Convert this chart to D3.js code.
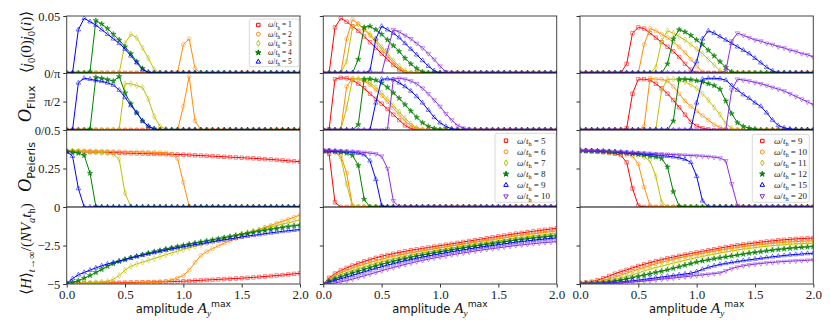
<!DOCTYPE html>
<html><head><meta charset="utf-8">
<script src="https://cdn.jsdelivr.net/npm/d3@7"></script>
<style>body{margin:0;background:#fff}</style>
</head><body><svg id="c" width="830" height="323"></svg>
<script>
// ---------------- data ----------------
const amp = [0,0.05,0.1,0.15,0.2,0.25,0.3,0.35,0.4,0.45,0.5,0.55,0.6,0.65,0.7,0.75,0.8,0.85,0.9,0.95,1,1.05,1.1,1.15,1.2,1.25,1.3,1.35,1.4,1.45,1.5,1.55,1.6,1.65,1.7,1.75,1.8,1.85,1.9,1.95,2];
const omegaLeft = [1,2,3,4,5];
const omegaMid = [5,6,7,8,9,10];
const omegaRight = [9,10,11,12,15,20];
const xTicks = [0,0.5,1,1.5,2];
const xTickLabels = ["0.0","0.5","1.0","1.5","2.0"];
const yTickValues = [[0,0.05],[0,Math.PI/2],[0,0.25],[-5,-2.5]];
const yTickLabels = [["0/π","0.05"],["0/0.5","π/2"],["0","0.25"],["−5","−2.5"]];

const jLeft = [
[0,0,0,0,0,0,0,0,0,0, 0,0,0,0,0,0,0,0,0,0, 0,0,0,0,0,0,0,0,0,0, 0,0,0,0,0,0,0,0,0,0, 0],
[0,0,0,0,0,0,0,0,0,0, 0,0,0,0,0,0,0,0,0,0, 0.025,0.03,0.004,0,0,0,0,0,0,0, 0,0,0,0,0,0,0,0,0,0, 0],
[0,0,0,0,0,0,0,0,0,0, 0.026,0.034,0.031,0.022,0.013,0.003,0,0,0,0, 0,0,0,0,0,0,0,0,0,0, 0,0,0,0,0,0,0,0,0,0, 0],
[0,0,0,0,0.001,0.046,0.043,0.039,0.034,0.029, 0.023,0.017,0.01,0.004,0.0005,0,0,0,0,0, 0,0,0,0,0,0,0,0,0,0, 0,0,0,0,0,0,0,0,0,0, 0],
[0,0,0.038,0.048,0.045,0.042,0.038,0.034,0.03,0.026, 0.021,0.015,0.009,0.003,0.0005,0,0,0,0,0, 0,0,0,0,0,0,0,0,0,0, 0,0,0,0,0,0,0,0,0,0, 0]
];
const fluxLeft = [
[0,0,0,0,0,0,0,0,0,0, 0,0,0,0,0,0,0,0,0,0, 0,0,0,0,0,0,0,0,0,0, 0,0,0,0,0,0,0,0,0,0, 0],
[0,0,0,0,0,0,0,0,0,0, 0,0,0,0,0,0,0,0,0,0, 1.3,2.95,0.5,0.02,0,0,0,0,0,0, 0,0,0,0,0,0,0,0,0,0, 0],
[0,0,0,0,0,0,0,0,0,0.05, 2.55,2.55,2.45,2.35,1.7,0.75,0.2,0.05,0,0, 0,0,0,0,0,0,0,0,0,0, 0,0,0,0,0,0,0,0,0,0, 0],
[0,0,0,0,0.05,2.9,2.85,2.78,2.7,2.95, 2.05,1.45,0.95,0.5,0.2,0.06,0,0,0,0, 0,0,0,0,0,0,0,0,0,0, 0,0,0,0,0,0,0,0,0,0, 0],
[0,0,2.6,2.85,2.8,2.73,2.68,2.6,2.48,2.2, 1.8,1.35,0.95,0.5,0.2,0.06,0,0,0,0, 0,0,0,0,0,0,0,0,0,0, 0,0,0,0,0,0,0,0,0,0, 0]
];
const peierlsLeft = [
[0.36,0.36,0.36,0.358,0.357,0.356,0.355,0.354,0.353,0.352, 0.35,0.349,0.348,0.347,0.346,0.345,0.344,0.343,0.342,0.341, 0.34,0.338,0.336,0.334,0.332,0.33,0.328,0.326,0.324,0.322, 0.32,0.318,0.316,0.314,0.311,0.309,0.306,0.303,0.3,0.297, 0.294],
[0.365,0.365,0.364,0.364,0.363,0.363,0.362,0.362,0.361,0.36, 0.359,0.358,0.358,0.357,0.356,0.355,0.354,0.352,0.345,0.315, 0.16,0.005,0,0,0,0,0,0,0,0, 0,0,0,0,0,0,0,0,0,0, 0],
[0.365,0.364,0.362,0.36,0.358,0.356,0.354,0.35,0.342,0.31, 0.09,0.002,0,0,0,0,0,0,0,0, 0,0,0,0,0,0,0,0,0,0, 0,0,0,0,0,0,0,0,0,0, 0],
[0.36,0.356,0.35,0.335,0.22,0.002,0,0,0,0, 0,0,0,0,0,0,0,0,0,0, 0,0,0,0,0,0,0,0,0,0, 0,0,0,0,0,0,0,0,0,0, 0],
[0.36,0.33,0.12,0,0,0,0,0,0,0, 0,0,0,0,0,0,0,0,0,0, 0,0,0,0,0,0,0,0,0,0, 0,0,0,0,0,0,0,0,0,0, 0]
];
const energyLeft = [
[-4.95,-4.95,-4.95,-4.95,-4.94,-4.94,-4.93,-4.93,-4.92,-4.92, -4.91,-4.9,-4.9,-4.89,-4.88,-4.87,-4.86,-4.85,-4.84,-4.83, -4.82,-4.8,-4.78,-4.76,-4.74,-4.72,-4.7,-4.68,-4.66,-4.64, -4.62,-4.6,-4.57,-4.54,-4.51,-4.48,-4.45,-4.42,-4.38,-4.34, -4.3],
[-4.95,-4.95,-4.95,-4.95,-4.95,-4.95,-4.95,-4.95,-4.95,-4.95, -4.95,-4.94,-4.93,-4.92,-4.91,-4.9,-4.88,-4.83,-4.75,-4.6, -4.45,-4.1,-3.6,-3.15,-2.9,-2.7,-2.52,-2.35,-2.2,-2.05, -1.9,-1.75,-1.6,-1.47,-1.32,-1.2,-1.05,-0.93,-0.8,-0.66, -0.52],
[-4.98,-4.97,-4.96,-4.94,-4.92,-4.9,-4.87,-4.82,-4.7,-4.45, -4.1,-3.85,-3.7,-3.58,-3.46,-3.35,-3.22,-3.1,-2.98,-2.87, -2.76,-2.65,-2.55,-2.45,-2.36,-2.25,-2.15,-2.05,-1.95,-1.85, -1.75,-1.65,-1.56,-1.47,-1.38,-1.29,-1.2,-1.11,-1.02,-0.93, -0.84],
[-4.97,-4.9,-4.78,-4.62,-4.45,-4.25,-4.05,-3.85,-3.68,-3.54, -3.42,-3.3,-3.2,-3.1,-3.0,-2.9,-2.82,-2.73,-2.65,-2.57, -2.49,-2.41,-2.34,-2.27,-2.2,-2.13,-2.06,-1.99,-1.92,-1.85, -1.78,-1.71,-1.64,-1.58,-1.51,-1.45,-1.39,-1.33,-1.27,-1.22, -1.17],
[-4.97,-4.65,-4.4,-4.25,-4.1,-3.95,-3.82,-3.7,-3.6,-3.5, -3.4,-3.3,-3.21,-3.12,-3.04,-2.96,-2.88,-2.8,-2.72,-2.65, -2.58,-2.51,-2.44,-2.38,-2.31,-2.25,-2.19,-2.13,-2.07,-2.01, -1.95,-1.89,-1.84,-1.79,-1.73,-1.68,-1.63,-1.58,-1.54,-1.5, -1.46]
];

const jMid = [
[0,0,0.04,0.048,0.045,0.041,0.037,0.032,0.027,0.022, 0.017,0.012,0.007,0.003,0.0005,0,0,0,0,0, 0,0,0,0,0,0,0,0,0,0, 0,0,0,0,0,0,0,0,0,0, 0],
[0,0,0,0,0.03,0.047,0.043,0.038,0.033,0.027, 0.021,0.015,0.009,0.004,0.001,0,0,0,0,0, 0,0,0,0,0,0,0,0,0,0, 0,0,0,0,0,0,0,0,0,0, 0],
[0,0,0,0,0.01,0.04,0.043,0.039,0.034,0.029, 0.023,0.017,0.011,0.006,0.002,0,0,0,0,0, 0,0,0,0,0,0,0,0,0,0, 0,0,0,0,0,0,0,0,0,0, 0],
[0,0,0,0,0,0,0.012,0.04,0.041,0.038, 0.034,0.029,0.024,0.019,0.013,0.008,0.004,0.001,0,0, 0,0,0,0,0,0,0,0,0,0, 0,0,0,0,0,0,0,0,0,0, 0],
[0,0,0,0,0,0,0,0,0.002,0.03, 0.041,0.038,0.035,0.031,0.026,0.021,0.016,0.011,0.006,0.002, 0,0,0,0,0,0,0,0,0,0, 0,0,0,0,0,0,0,0,0,0, 0],
[0,0,0,0,0,0,0,0,0,0, 0,0.02,0.038,0.036,0.033,0.03,0.026,0.022,0.017,0.012, 0.006,0.001,0,0,0,0,0,0,0,0, 0,0,0,0,0,0,0,0,0,0, 0]
];
const fluxMid = [
[0,0.05,2.8,2.88,2.85,2.75,2.55,2.3,2.0,1.72, 1.45,1.15,0.85,0.55,0.25,0.08,0.02,0,0,0, 0,0,0,0,0,0,0,0,0,0, 0,0,0,0,0,0,0,0,0,0, 0],
[0,0,0,0.02,2.4,2.85,2.8,2.7,2.5,2.2, 1.9,1.55,1.2,0.85,0.5,0.25,0.08,0,0,0, 0,0,0,0,0,0,0,0,0,0, 0,0,0,0,0,0,0,0,0,0, 0],
[0,0,0,0.02,1.2,2.8,2.83,2.78,2.6,2.35, 2.05,1.7,1.35,1.0,0.65,0.35,0.12,0.03,0,0, 0,0,0,0,0,0,0,0,0,0, 0,0,0,0,0,0,0,0,0,0, 0],
[0,0,0,0,0,0,0.3,2.8,2.82,2.75, 2.6,2.35,2.05,1.75,1.4,1.05,0.7,0.4,0.2,0.08, 0.02,0,0,0,0,0,0,0,0,0, 0,0,0,0,0,0,0,0,0,0, 0],
[0,0,0,0,0,0,0,0,0,1.5, 2.8,2.82,2.78,2.6,2.4,2.15,1.85,1.5,1.1,0.7, 0.4,0.2,0.07,0.02,0,0,0,0,0,0, 0,0,0,0,0,0,0,0,0,0, 0],
[0,0,0,0,0,0,0,0,0,0, 0,0.05,2.8,2.85,2.8,2.7,2.55,2.3,2.0,1.65, 1.3,0.9,0.55,0.25,0.1,0.03,0,0,0,0, 0,0,0,0,0,0,0,0,0,0, 0]
];
const peierlsMid = [
[0.36,0.345,0.03,0,0,0,0,0,0,0, 0,0,0,0,0,0,0,0,0,0, 0,0,0,0,0,0,0,0,0,0, 0,0,0,0,0,0,0,0,0,0, 0],
[0.365,0.363,0.358,0.335,0.22,0.01,0,0,0,0, 0,0,0,0,0,0,0,0,0,0, 0,0,0,0,0,0,0,0,0,0, 0,0,0,0,0,0,0,0,0,0, 0],
[0.365,0.362,0.356,0.32,0.15,0.002,0,0,0,0, 0,0,0,0,0,0,0,0,0,0, 0,0,0,0,0,0,0,0,0,0, 0,0,0,0,0,0,0,0,0,0, 0],
[0.365,0.363,0.36,0.356,0.35,0.335,0.27,0.05,0,0, 0,0,0,0,0,0,0,0,0,0, 0,0,0,0,0,0,0,0,0,0, 0,0,0,0,0,0,0,0,0,0, 0],
[0.365,0.364,0.362,0.36,0.358,0.355,0.35,0.34,0.3,0.18, 0.01,0,0,0,0,0,0,0,0,0, 0,0,0,0,0,0,0,0,0,0, 0,0,0,0,0,0,0,0,0,0, 0],
[0.37,0.368,0.366,0.364,0.362,0.36,0.357,0.354,0.35,0.345, 0.33,0.25,0.04,0,0,0,0,0,0,0, 0,0,0,0,0,0,0,0,0,0, 0,0,0,0,0,0,0,0,0,0, 0]
];
const energyMid = [
[-5,-4.6,-4.32,-4.12,-3.95,-3.8,-3.66,-3.53,-3.41,-3.3, -3.2,-3.11,-3.03,-2.95,-2.88,-2.81,-2.75,-2.69,-2.63,-2.57, -2.51,-2.45,-2.39,-2.33,-2.27,-2.21,-2.15,-2.09,-2.03,-1.97, -1.91,-1.85,-1.79,-1.73,-1.68,-1.63,-1.58,-1.53,-1.48,-1.43, -1.38],
[-5,-4.68,-4.44,-4.27,-4.12,-3.98,-3.84,-3.72,-3.6,-3.49, -3.39,-3.29,-3.21,-3.13,-3.05,-2.98,-2.91,-2.85,-2.78,-2.72, -2.66,-2.59,-2.53,-2.47,-2.41,-2.35,-2.29,-2.23,-2.17,-2.12, -2.06,-2,-1.94,-1.88,-1.84,-1.79,-1.74,-1.69,-1.65,-1.6, -1.55],
[-5,-4.74,-4.55,-4.4,-4.27,-4.13,-4.01,-3.89,-3.77,-3.66, -3.56,-3.46,-3.37,-3.28,-3.2,-3.13,-3.05,-2.99,-2.92,-2.85, -2.79,-2.72,-2.66,-2.6,-2.54,-2.48,-2.42,-2.36,-2.3,-2.25, -2.19,-2.14,-2.08,-2.02,-1.98,-1.93,-1.88,-1.84,-1.8,-1.75, -1.71],
[-5,-4.81,-4.66,-4.53,-4.41,-4.28,-4.17,-4.05,-3.93,-3.82, -3.72,-3.62,-3.53,-3.43,-3.35,-3.27,-3.19,-3.12,-3.05,-2.98, -2.91,-2.85,-2.78,-2.72,-2.66,-2.6,-2.54,-2.48,-2.43,-2.37, -2.32,-2.26,-2.21,-2.15,-2.11,-2.06,-2.02,-1.98,-1.94,-1.9, -1.86],
[-5,-4.87,-4.76,-4.65,-4.55,-4.43,-4.32,-4.21,-4.09,-3.98, -3.88,-3.77,-3.68,-3.58,-3.49,-3.41,-3.33,-3.25,-3.18,-3.1, -3.04,-2.97,-2.9,-2.84,-2.78,-2.72,-2.66,-2.6,-2.55,-2.5, -2.44,-2.39,-2.34,-2.28,-2.24,-2.2,-2.16,-2.11,-2.08,-2.04, -2],
[-5,-4.98,-4.93,-4.86,-4.78,-4.68,-4.58,-4.47,-4.36,-4.25, -4.14,-4.03,-3.93,-3.83,-3.73,-3.64,-3.55,-3.47,-3.39,-3.31, -3.24,-3.17,-3.1,-3.04,-2.98,-2.92,-2.86,-2.8,-2.75,-2.7, -2.65,-2.6,-2.55,-2.5,-2.46,-2.42,-2.38,-2.34,-2.31,-2.28, -2.25]
];

const jRight = [
[0,0,0,0,0,0,0,0,0.008,0.035, 0.04,0.039,0.035,0.031,0.027,0.023,0.019,0.014,0.008,0.003, 0,0,0,0,0,0,0,0,0,0, 0,0,0,0,0,0,0,0,0,0, 0],
[0,0,0,0,0,0,0,0,0,0, 0,0.025,0.039,0.037,0.034,0.031,0.027,0.023,0.018,0.012, 0.006,0.001,0,0,0,0,0,0,0,0, 0,0,0,0,0,0,0,0,0,0, 0],
[0,0,0,0,0,0,0,0,0,0, 0,0,0,0.005,0.028,0.037,0.035,0.032,0.029,0.025, 0.021,0.017,0.012,0.007,0.002,0,0,0,0,0, 0,0,0,0,0,0,0,0,0,0, 0],
[0,0,0,0,0,0,0,0,0,0, 0,0,0,0,0,0.008,0.03,0.038,0.036,0.033, 0.029,0.025,0.02,0.015,0.01,0.005,0.001,0,0,0, 0,0,0,0,0,0,0,0,0,0, 0],
[0,0,0,0,0,0,0,0,0,0, 0,0,0,0,0,0,0,0,0,0, 0.01,0.03,0.037,0.035,0.032,0.029,0.026,0.023,0.02,0.017, 0.013,0.009,0.005,0.002,0,0,0,0,0,0, 0],
[0,0,0,0,0,0,0,0,0,0, 0,0,0,0,0,0,0,0,0,0, 0,0,0,0,0,0.002,0.028,0.035,0.033,0.031, 0.029,0.028,0.026,0.025,0.023,0.022,0.02,0.019,0.017,0.016, 0.014]
];
const fluxRight = [
[0,0,0,0,0,0,0,0,0.1,2.0, 2.8,2.8,2.75,2.55,2.3,2.0,1.65,1.25,0.85,0.45, 0.22,0.1,0.04,0,0,0,0,0,0,0, 0,0,0,0,0,0,0,0,0,0, 0],
[0,0,0,0,0,0,0,0,0,0, 0,0.2,2.85,2.8,2.8,2.7,2.4,2.0,1.6,1.3, 1.05,0.8,0.55,0.3,0.15,0.05,0,0,0,0, 0,0,0,0,0,0,0,0,0,0, 0],
[0,0,0,0,0,0,0,0,0,0, 0,0,0,0.05,2.2,2.8,2.8,2.75,2.65,2.5, 2.3,2.0,1.65,1.25,0.85,0.35,0.1,0,0,0, 0,0,0,0,0,0,0,0,0,0, 0],
[0,0,0,0,0,0,0,0,0,0, 0,0,0,0,0,0,0.5,2.8,2.8,2.78, 2.72,2.65,2.55,2.45,2.25,1.6,0.9,0.4,0.2,0.1, 0.05,0,0,0,0,0,0,0,0,0, 0],
[0,0,0,0,0,0,0,0,0,0, 0,0,0,0,0,0,0,0,0,0.05, 1.5,2.8,2.85,2.85,2.83,2.75,2.45,2.2,1.95,1.75, 1.5,1.3,0.95,0.55,0.25,0.12,0.06,0.03,0.02,0.01, 0.01],
[0,0,0,0,0,0,0,0,0,0, 0,0,0,0,0,0,0,0,0,0, 0,0,0,0,0,0.02,2.2,2.8,2.75,2.7, 2.62,2.55,2.45,2.35,2.25,2.15,2.0,1.85,1.7,1.55, 1.4]
];
const peierlsRight = [
[0.365,0.364,0.362,0.36,0.356,0.352,0.346,0.336,0.29,0.12, 0.01,0,0,0,0,0,0,0,0,0, 0,0,0,0,0,0,0,0,0,0, 0,0,0,0,0,0,0,0,0,0, 0],
[0.365,0.364,0.363,0.361,0.358,0.355,0.352,0.348,0.342,0.33, 0.28,0.13,0.01,0,0,0,0,0,0,0, 0,0,0,0,0,0,0,0,0,0, 0,0,0,0,0,0,0,0,0,0, 0],
[0.366,0.365,0.364,0.362,0.36,0.357,0.354,0.351,0.347,0.342, 0.336,0.325,0.3,0.2,0.03,0,0,0,0,0, 0,0,0,0,0,0,0,0,0,0, 0,0,0,0,0,0,0,0,0,0, 0],
[0.366,0.365,0.364,0.363,0.361,0.359,0.356,0.353,0.35,0.346, 0.342,0.337,0.33,0.325,0.315,0.26,0.1,0.005,0,0, 0,0,0,0,0,0,0,0,0,0, 0,0,0,0,0,0,0,0,0,0, 0],
[0.367,0.366,0.365,0.364,0.362,0.36,0.358,0.356,0.353,0.35, 0.347,0.344,0.341,0.338,0.334,0.33,0.326,0.32,0.31,0.29, 0.2,0.04,0,0,0,0,0,0,0,0, 0,0,0,0,0,0,0,0,0,0, 0],
[0.368,0.367,0.366,0.365,0.364,0.362,0.36,0.358,0.356,0.354, 0.352,0.35,0.348,0.346,0.344,0.342,0.34,0.338,0.336,0.334, 0.332,0.33,0.327,0.323,0.318,0.3,0.15,0.01,0,0, 0,0,0,0,0,0,0,0,0,0, 0]
];
const energyRight = [
[-4.92,-4.9,-4.85,-4.75,-4.62,-4.48,-4.33,-4.2,-4.08,-3.95, -3.83,-3.72,-3.61,-3.51,-3.42,-3.33,-3.25,-3.17,-3.09,-3.02, -2.95,-2.88,-2.81,-2.74,-2.67,-2.6,-2.54,-2.48,-2.43,-2.38, -2.33,-2.28,-2.24,-2.2,-2.16,-2.13,-2.1,-2.07,-2.05,-2.03, -2.02],
[-4.95,-4.93,-4.9,-4.85,-4.77,-4.67,-4.55,-4.42,-4.29,-4.16, -4.04,-3.92,-3.8,-3.69,-3.59,-3.49,-3.4,-3.31,-3.23,-3.15, -3.08,-3.01,-2.94,-2.87,-2.81,-2.75,-2.69,-2.63,-2.58,-2.53, -2.48,-2.44,-2.4,-2.36,-2.33,-2.3,-2.27,-2.25,-2.23,-2.21, -2.2],
[-4.97,-4.96,-4.93,-4.89,-4.84,-4.77,-4.7,-4.62,-4.5,-4.4, -4.28,-4.15,-4.03,-3.93,-3.84,-3.74,-3.64,-3.55,-3.46,-3.37, -3.29,-3.21,-3.13,-3.06,-2.99,-2.92,-2.86,-2.8,-2.74,-2.69, -2.64,-2.59,-2.55,-2.51,-2.48,-2.45,-2.42,-2.4,-2.38,-2.36, -2.35],
[-4.98,-4.97,-4.96,-4.94,-4.91,-4.87,-4.82,-4.75,-4.67,-4.59, -4.5,-4.42,-4.34,-4.25,-4.17,-4.08,-3.98,-3.88,-3.78,-3.68, -3.58,-3.5,-3.43,-3.36,-3.3,-3.24,-3.18,-3.12,-3.06,-3.0, -2.95,-2.9,-2.85,-2.8,-2.76,-2.72,-2.68,-2.65,-2.62,-2.6, -2.57],
[-5,-4.99,-4.98,-4.97,-4.95,-4.93,-4.9,-4.87,-4.83,-4.79, -4.75,-4.7,-4.65,-4.6,-4.55,-4.5,-4.45,-4.4,-4.35,-4.3, -4.2,-4.05,-3.92,-3.82,-3.73,-3.66,-3.6,-3.54,-3.48,-3.43, -3.38,-3.33,-3.28,-3.23,-3.19,-3.15,-3.11,-3.08,-3.05,-3.02, -3],
[-5,-5,-4.99,-4.98,-4.97,-4.96,-4.94,-4.92,-4.9,-4.87, -4.84,-4.81,-4.77,-4.73,-4.69,-4.65,-4.61,-4.57,-4.53,-4.49, -4.45,-4.41,-4.37,-4.33,-4.28,-4.15,-4,-3.9,-3.82,-3.76, -3.71,-3.67,-3.63,-3.6,-3.57,-3.54,-3.52,-3.5,-3.48,-3.46, -3.44]
];

const seriesColors = ["#ff0000","#ff8c00","#bfbf00","#008000","#0000ff","#8a2be2"];

// ---------------- layout ----------------
const SERIF = "'Liberation Serif','DejaVu Serif',serif";
const SANS = "'DejaVu Sans','Liberation Sans',sans-serif";
const svg = d3.select("#c");
const rowsY = [[16,73],[73,130],[130,207],[207,284]];
const rowDomain = [[0,0.05],[0,Math.PI],[0,0.5],[-5,0]];
const symbols = [d3.symbolSquare, d3.symbolCircle, d3.symbolDiamond, d3.symbolStar, d3.symbolTriangle, d3.symbolTriangle];
const symSizes = [12, 12, 10, 9, 9, 9];

const panels = [
  {x:[66.7,300], omega: omegaLeft, rows:[jLeft, fluxLeft, peierlsLeft, energyLeft],
   legend:{x:249.3, y:19, w:49.7, h:47.7, row0:25, dy:9.2, mx:258.3, tx:268, fs:7.5}},
  {x:[323.3,556.7], omega: omegaMid, rows:[jMid, fluxMid, peierlsMid, energyMid],
   legend:{x:495, y:133.3, w:60.7, h:69, row0:140.7, dy:11.1, mx:506, tx:517, fs:9}},
  {x:[580,813.3], omega: omegaRight, rows:[jRight, fluxRight, peierlsRight, energyRight],
   legend:{x:752.3, y:134.3, w:57, h:68, row0:141, dy:11, mx:762.3, tx:774, fs:9}}
];

// parts: [text, kind, sizeFactor?]; kind prefix "_" sub, "^" sup
function mathText(sel, parts, base) {
  let cur = 0;
  parts.forEach(([txt, kind, f]) => {
    let shift = 0, scale = f || 1;
    let k = kind;
    if (k[0] === "_") { shift = 0.28 * base; scale = (f || 0.7); k = k.slice(1); }
    else if (k[0] === "^") { shift = -0.45 * base; scale = (f || 0.68); k = k.slice(1); }
    sel.append("tspan").text(txt)
      .attr("dy", shift - cur)
      .attr("font-size", base * scale)
      .attr("font-family", k === "sf" ? SANS : SERIF)
      .attr("font-style", k === "i" ? "italic" : "normal");
    cur = shift;
  });
}

function markerPath(idx) {
  return d3.symbol().type(symbols[idx]).size(symSizes[idx])();
}

panels.forEach((p, pi) => {
  const x = d3.scaleLinear().domain([0, 2]).range(p.x);
  const g = svg.append("g");
  p.rows.forEach((rowData, ri) => {
    const y = d3.scaleLinear().domain(rowDomain[ri]).range([rowsY[ri][1], rowsY[ri][0]]);
    const clipId = `clip${pi}_${ri}`;
    svg.append("clipPath").attr("id", clipId).append("rect")
      .attr("x", p.x[0]).attr("y", rowsY[ri][0])
      .attr("width", p.x[1] - p.x[0]).attr("height", rowsY[ri][1] - rowsY[ri][0]);
    const rg = g.append("g").attr("clip-path", `url(#${clipId})`);
    const line = d3.line().x(d => x(d[0])).y(d => y(d[1]));
    rowData.forEach((vals, si) => {
      const pts = vals.map((v, i) => [amp[i], v]);
      const col = seriesColors[si];
      rg.append("path").datum(pts).attr("d", line)
        .attr("fill", "none").attr("stroke", col).attr("stroke-width", 1);
      const filled = si === 3;
      rg.append("g").selectAll("path").data(pts).join("path")
        .attr("d", markerPath(si))
        .attr("transform", d => `translate(${x(d[0])},${y(d[1])})${si === 5 ? " rotate(180)" : ""}`)
        .attr("fill", filled ? col : "none")
        .attr("fill-opacity", 0.7)
        .attr("stroke", col).attr("stroke-opacity", 0.5).attr("stroke-width", 1);
    });
    const yAxis = d3.axisLeft(y).tickValues(yTickValues[ri]).tickSize(3.5).tickPadding(3)
      .tickFormat((d, i) => pi === 0 ? yTickLabels[ri][i] : "");
    const ag = g.append("g").attr("transform", `translate(${p.x[0]},0)`).call(yAxis);
    ag.select(".domain").remove();
    ag.selectAll(".tick line").attr("stroke", "#333");
    ag.selectAll(".tick text").attr("font-family", SERIF).attr("font-size", 12.5).attr("fill", "#222");
  });
  const yb = rowsY[3][1];
  const xAxis = d3.axisBottom(x).tickValues(xTicks).tickSize(3.5).tickPadding(2.5)
    .tickFormat((d, i) => xTickLabels[i]);
  const xg = g.append("g").attr("transform", `translate(0,${yb})`).call(xAxis);
  xg.select(".domain").remove();
  xg.selectAll(".tick line").attr("stroke", "#333");
  xg.selectAll(".tick text").attr("font-family", SERIF).attr("font-size", 13).attr("fill", "#222");
  g.append("rect").attr("x", p.x[0]).attr("y", rowsY[0][0])
    .attr("width", p.x[1] - p.x[0]).attr("height", rowsY[3][1] - rowsY[0][0])
    .attr("fill", "none").attr("stroke", "#444").attr("stroke-width", 1);
  [73, 130, 207].forEach(yy => {
    g.append("line").attr("x1", p.x[0]).attr("x2", p.x[1]).attr("y1", yy).attr("y2", yy)
      .attr("stroke", "#000").attr("stroke-width", 1.2);
  });
  // legend
  const L = p.legend;
  const lg = g.append("g");
  lg.append("rect").attr("x", L.x).attr("y", L.y).attr("width", L.w).attr("height", L.h)
    .attr("rx", 2).attr("fill", "#fff").attr("fill-opacity", 0.85)
    .attr("stroke", "#d0d0d0").attr("stroke-width", 0.8);
  p.omega.forEach((om, si) => {
    const yy = L.row0 + si * L.dy;
    const col = seriesColors[si];
    lg.append("path").attr("d", markerPath(si))
      .attr("transform", `translate(${L.mx},${yy})${si === 5 ? " rotate(180)" : ""}`)
      .attr("fill", si === 3 ? col : "none").attr("stroke", col).attr("stroke-width", 1);
    const t = lg.append("text").attr("x", L.tx).attr("y", yy + L.fs * 0.33).attr("fill", "#222");
    mathText(t, [["ω","i"],["/","r"],["t","i"],["h","_r"],[" = " + om,"r"]], L.fs);
  });
  // x label
  const cx = (p.x[0] + p.x[1]) / 2;
  const xt = svg.append("text").attr("x", cx).attr("y", 312.5).attr("text-anchor", "middle").attr("fill", "#111");
  mathText(xt, [["amplitude ","sf"],["A","i",1.35],["y","_i",0.8],["max","^sf",0.8]], 11.5);
});

function yLabel(cy, parts, base) {
  const t = svg.append("text").attr("transform", `translate(31,${cy}) rotate(-90)`)
    .attr("text-anchor", "middle").attr("fill", "#111");
  mathText(t, parts, base);
}
yLabel(42, [["⟨","r"],["j","i"],["0","_r"],["(0)","r"],["j","i"],["0","_r"],["(","r"],["i","i"],[")⟩","r"]], 15);
yLabel(104, [["O","i",1.15],["Flux","_sf"]], 16);
yLabel(167, [["O","i",1.15],["Peierls","_sf"]], 16);
yLabel(249, [["⟨","r"],["H","i"],["⟩","r"],["t→∞","_i"],["/(","r"],["N","i"],["V","i"],["a","_i"],["t","i"],["h","_r"],[")","r"]], 15);
</script>
</body></html>
